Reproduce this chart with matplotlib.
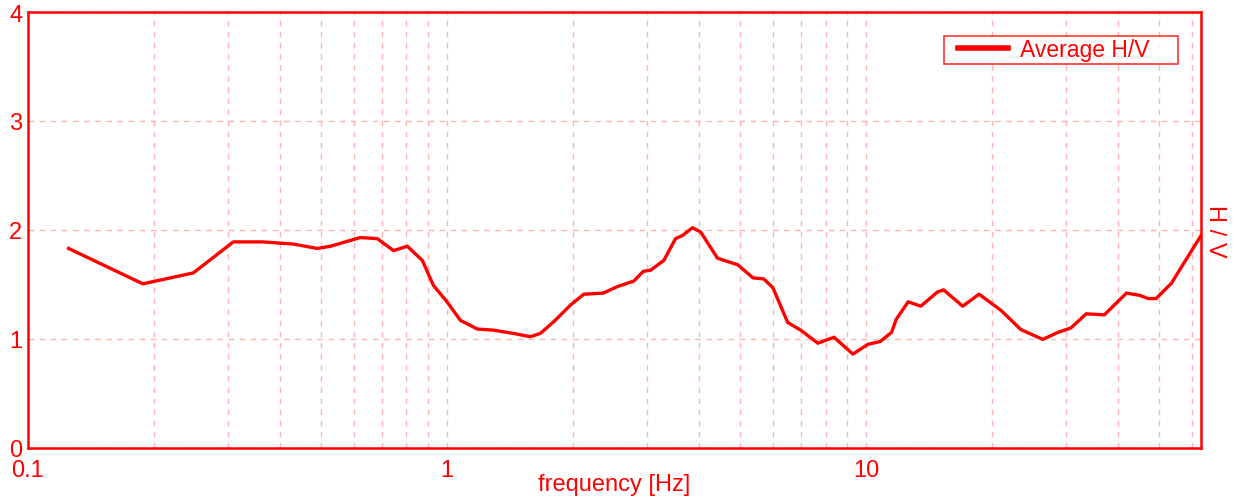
# Curva H/V media (razón espectral horizontal / vertical)
import matplotlib.pyplot as plt
from matplotlib.lines import Line2D
from matplotlib.legend_handler import HandlerLine2D
from matplotlib.ticker import FixedLocator, NullFormatter, LogLocator

plt.rcParams['font.family'] = ['Liberation Sans', 'DejaVu Sans']

frecuencia = [0.125, 0.188, 0.248, 0.309, 0.364, 0.430, 0.490, 0.527, 0.621, 0.682,
              0.745, 0.804, 0.873, 0.928, 1.0, 1.076, 1.182, 1.29, 1.44, 1.58,
              1.67, 1.80, 1.97, 2.12, 2.36, 2.55, 2.79, 2.94, 3.06, 3.29,
              3.51, 3.65, 3.85, 4.03, 4.42, 4.67, 4.94, 5.37, 5.70, 5.99,
              6.50, 6.98, 7.67, 8.38, 9.30, 10.1, 10.8, 11.5, 11.8, 12.6,
              13.5, 14.8, 15.3, 17.0, 18.6, 21.0, 23.4, 26.4, 28.7, 30.8,
              33.5, 37.0, 41.8, 44.9, 47.1, 49.2, 53.5, 57.4, 63.0]
hv_medio = [1.83, 1.505, 1.605, 1.89, 1.89, 1.87, 1.83, 1.85, 1.93, 1.92,
            1.81, 1.85, 1.72, 1.49, 1.34, 1.17, 1.09, 1.08, 1.05, 1.02,
            1.05, 1.16, 1.31, 1.41, 1.42, 1.48, 1.53, 1.62, 1.63, 1.72,
            1.92, 1.95, 2.02, 1.98, 1.74, 1.71, 1.68, 1.56, 1.55, 1.47,
            1.15, 1.08, 0.96, 1.015, 0.86, 0.95, 0.975, 1.06, 1.18, 1.34,
            1.30, 1.43, 1.45, 1.30, 1.41, 1.26, 1.085, 0.995, 1.06, 1.10,
            1.23, 1.22, 1.42, 1.40, 1.37, 1.37, 1.51, 1.70, 1.95]

etiquetas_x = [0.1, 1, 10]
etiquetas_y = [0, 1, 2, 3, 4]

rojo = '#ff0000'
rosa = '#ffb3b3'

fig = plt.figure(figsize=(12.37, 5.02), dpi=100)
ax = fig.add_axes([0.0226, 0.106, 0.9484, 0.868])

ax.plot(frecuencia, hv_medio, color=rojo, linewidth=2.4, label='Average H/V    ')

ax.set_xscale('log')
ax.set_xlim(0.1, 63)
ax.set_ylim(0, 4)

ax.xaxis.set_major_locator(FixedLocator(etiquetas_x))
ax.set_xticklabels(['0.1', '1', '10'])
ax.xaxis.set_minor_locator(LogLocator(base=10, subs=range(2, 10)))
ax.xaxis.set_minor_formatter(NullFormatter())
ax.set_yticks(etiquetas_y)

ax.tick_params(axis='both', which='both', length=0, colors=rojo, labelsize=17)
ax.tick_params(axis='x', pad=8)
ax.tick_params(axis='y', pad=4)

ax.grid(True, which='both', axis='x', color=rosa, linestyle=(0, (4, 4)), linewidth=1)
ax.grid(True, which='major', axis='y', color=rosa, linestyle=(0, (4, 4)), linewidth=1)

for lado in ax.spines.values():
    lado.set_color(rojo)
    lado.set_linewidth(1.8)

ax.set_xlabel('frequency [Hz]', color=rojo, fontsize=17, labelpad=-5.5)
ax.yaxis.set_label_position('right')
ax.set_ylabel('H / V', color=rojo, fontsize=17, rotation=270, labelpad=18)

# leyenda con margen a la izquierda de la línea
leyenda = ax.legend(loc='upper right', bbox_to_anchor=(0.980, 0.945), fontsize=16.5,
                    frameon=True, fancybox=False, borderpad=0.1, handlelength=2.7,
                    handletextpad=0.55, borderaxespad=0,
                    handler_map={Line2D: HandlerLine2D(xpad=0.55)})
leyenda.get_frame().set_edgecolor(rojo)
leyenda.get_frame().set_linewidth(1.2)
for texto in leyenda.get_texts():
    texto.set_color(rojo)
for linea in leyenda.get_lines():
    linea.set_linewidth(4)

fig.savefig('out.png', dpi=100)
